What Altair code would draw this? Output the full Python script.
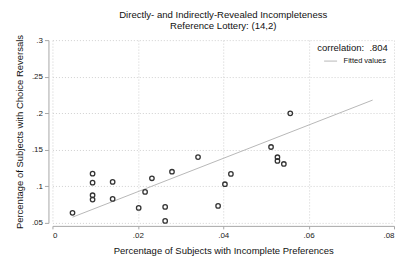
import altair as alt
import pandas as pd

# data
x_incomplete = [0.0047, 0.0094, 0.0094, 0.0094, 0.0094, 0.0141, 0.0141, 0.0202,
                0.0217, 0.0233, 0.0264, 0.0264, 0.0280, 0.0341, 0.0388, 0.0404,
                0.0418, 0.0512, 0.0527, 0.0527, 0.0542, 0.0557]
y_reversal = [0.0637, 0.1173, 0.1050, 0.0878, 0.0819, 0.1060, 0.0828, 0.0705,
              0.0924, 0.1110, 0.0718, 0.0527, 0.1200, 0.1400, 0.0732, 0.1029,
              0.1170, 0.1538, 0.1398, 0.1347, 0.1306, 0.1999]
fit_x = [0.0047, 0.075]
fit_y = [0.0578, 0.218]
fit_label = ["Fitted values", "Fitted values"]
x_ticks = [0, 0.02, 0.04, 0.06, 0.08]
y_ticks = [0.05, 0.1, 0.15, 0.2, 0.25, 0.3]

FONT = "Liberation Sans"
label_expr = "datum.value == 0 ? '0' : replace(format(datum.value, '.2~f'), '0.', '.')"

pts = pd.DataFrame({"x": x_incomplete, "y": y_reversal})
fit = pd.DataFrame({"x": fit_x, "y": fit_y, "s": fit_label})

xscale = alt.Scale(domain=[0, 0.08], nice=False, zero=False)
yscale = alt.Scale(domain=[0.05, 0.3], nice=False, zero=False)

xaxis = alt.Axis(values=x_ticks, labelExpr=label_expr, labelOverlap=False,
                 title="Percentage of Subjects with Incomplete Preferences",
                 offset=3, titlePadding=6)
yaxis = alt.Axis(values=y_ticks, labelExpr=label_expr, labelOverlap=False,
                 title="Percentage of Subjects with Choice Reversals",
                 offset=4, titlePadding=7, tickSize=4, labelPadding=2)

line = alt.Chart(fit).mark_line(strokeWidth=1).encode(
    x=alt.X("x:Q", scale=xscale, axis=xaxis),
    y=alt.Y("y:Q", scale=yscale, axis=yaxis),
    color=alt.Color("s:N", scale=alt.Scale(range=["#b8b8b8"]),
                    legend=alt.Legend(title="correlation:\u00a0\u00a0.804", orient="none",
                                      legendX=265.5, legendY=2.5,
                                      symbolType="stroke", symbolSize=169,
                                      symbolStrokeWidth=1, symbolOffset=4,
                                      labelOffset=6,
                                      titleFontSize=9.5, titleFontWeight="normal",
                                      titleFont=FONT, titleColor="#111",
                                      labelFont=FONT, labelFontSize=7.5,
                                      labelColor="#111",
                                      titleAnchor="middle", titleAlign="center",
                                      titlePadding=2)),
)

points = alt.Chart(pts).mark_point(shape="circle", filled=False, size=20,
                                   strokeWidth=1.3, color="#333333", opacity=1).encode(
    x=alt.X("x:Q", scale=xscale, axis=xaxis),
    y=alt.Y("y:Q", scale=yscale, axis=yaxis),
)

chart = alt.layer(line, points).properties(
    width=342, height=183,
    title=alt.Title(["Directly- and Indirectly-Revealed Incompleteness",
                     "Reference Lottery: (14,2)"],
                    font=FONT, fontSize=9.6, fontWeight="normal", color="#111",
                    anchor="middle", offset=3.5, lineHeight=11),
    autosize=alt.AutoSizeParams(type="none"),
    padding={"left": 44.5, "top": 32, "right": 5, "bottom": 35},
).configure_view(stroke=None).configure_axis(
    labelFont=FONT, titleFont=FONT, labelFontSize=8, titleFontSize=9.5,
    titleFontWeight="normal", labelColor="#222", titleColor="#111",
    domainColor="#a8a8a8", tickColor="#a8a8a8", tickSize=3,
    gridColor="#d0d0d0", gridDash=[1, 2], gridWidth=1, labelPadding=3,
    labelOverlap=False,
)

chart.save("out.html", embed_options={"renderer": "svg", "actions": False})
